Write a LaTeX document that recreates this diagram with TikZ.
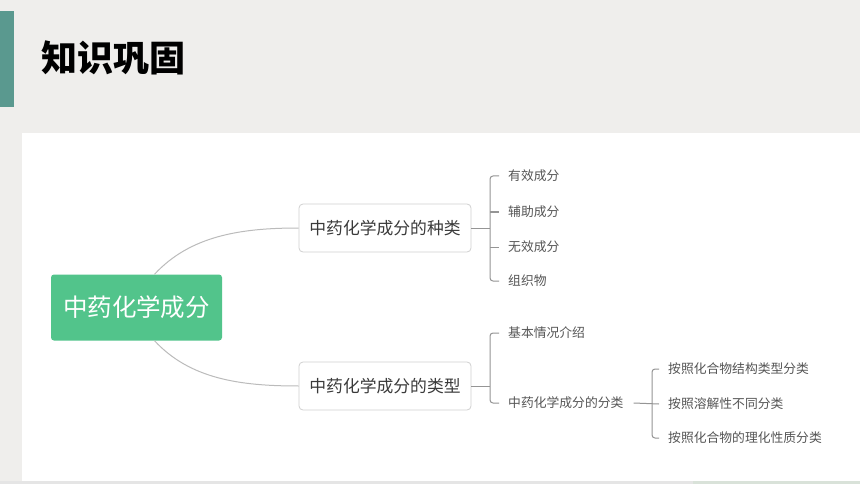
\documentclass[tikz,border=0pt]{standalone}
\usepackage{fontspec}
\setmainfont{Noto Sans CJK SC}
\definecolor{pagegray}{HTML}{EFEEEC}
\definecolor{barteal}{HTML}{5A998F}
\definecolor{rootgreen}{HTML}{52C48B}
\definecolor{boxgray}{HTML}{D0D0D0}
\definecolor{txtgray}{HTML}{3A3A3A}
\definecolor{leafgray}{HTML}{555555}
\definecolor{curvegray}{HTML}{BBBBBB}
\definecolor{brkgray}{HTML}{959595}
\tikzset{
  rootbox/.style={fill=rootgreen, rounded corners=3pt, text=white,
    font=\fontsize{24.5}{26}\selectfont, minimum width=171pt, minimum height=66pt},
  subbox/.style={draw=boxgray, line width=0.8pt, fill=white, rounded corners=4pt, text=txtgray,
    font=\fontsize{16.8}{18}\selectfont, minimum width=172pt, minimum height=48pt},
  leaf/.style={anchor=west, inner sep=0pt, text=leafgray, font=\fontsize{12.8}{14}\selectfont},
  link/.style={draw=curvegray, line width=1pt},
  brk/.style={draw=brkgray, line width=1pt, rounded corners=3pt},
}

\begin{document}
\begin{tikzpicture}[x=1pt,y=-1pt]
  % page
  \useasboundingbox (0,0) rectangle (860,484);
  \fill[pagegray] (0,0) rectangle (860,484);
  \fill[barteal] (0,11) rectangle (14,107);
  \node[anchor=west, inner sep=0pt, font=\fontsize{36}{40}\selectfont\bfseries] (title) at (41,58) {知识巩固};
  \fill[white] (22,133) rectangle (860,481);
  \fill[black!10] (0,481) rectangle (693,484);
  \fill[green!25!black!15] (693,481) rectangle (860,484);
  % root and branches
  \node[rootbox] (root) at (136.5,307.5) {中药化学成分};
  \node[subbox] (kind) at (385,228) {中药化学成分的种类};
  \node[subbox] (type) at (385,386) {中药化学成分的类型};
  \draw[link] ([xshift=18]root.north) .. controls (190,236) and (240,228) .. (kind.west);
  \draw[link] ([xshift=18]root.south) .. controls (190,379) and (240,386) .. (type.west);
  % leaves of the first branch
  \foreach \t/\y [count=\i] in {有效成分/176, 辅助成分/212, 无效成分/247, 组织物/281}
    \node[leaf] (a\i) at (508,\y) {\t};
  \draw[brk] (kind.east) -- (490,228);
  \draw[brk] ([xshift=-9]a1.west) -| ([xshift=-18]a4.west) -- ([xshift=-9]a4.west);
  \draw[brk] ([xshift=-18]a2.west) -- ([xshift=-9]a2.west);
  \draw[brk] ([xshift=-18]a3.west) -- ([xshift=-9]a3.west);
  % leaves of the second branch
  \node[leaf] (b1) at (508,333) {基本情况介绍};
  \node[leaf] (b2) at (508,403) {中药化学成分的分类};
  \draw[brk] (type.east) -- (490,386);
  \draw[brk] ([xshift=-9]b1.west) -| ([xshift=-18]b2.west) -- ([xshift=-9]b2.west);
  \foreach \t/\y [count=\i] in {按照化合物结构类型分类/369, 按照溶解性不同分类/404, 按照化合物的理化性质分类/438}
    \node[leaf] (c\i) at (668,\y) {\t};
  \draw[brk] ([xshift=10]b2.east) -- ([xshift=-9]c2.west);
  \draw[brk] ([xshift=-9]c1.west) -| ([xshift=-16]c3.west) -- ([xshift=-9]c3.west);
\end{tikzpicture}
\end{document}
